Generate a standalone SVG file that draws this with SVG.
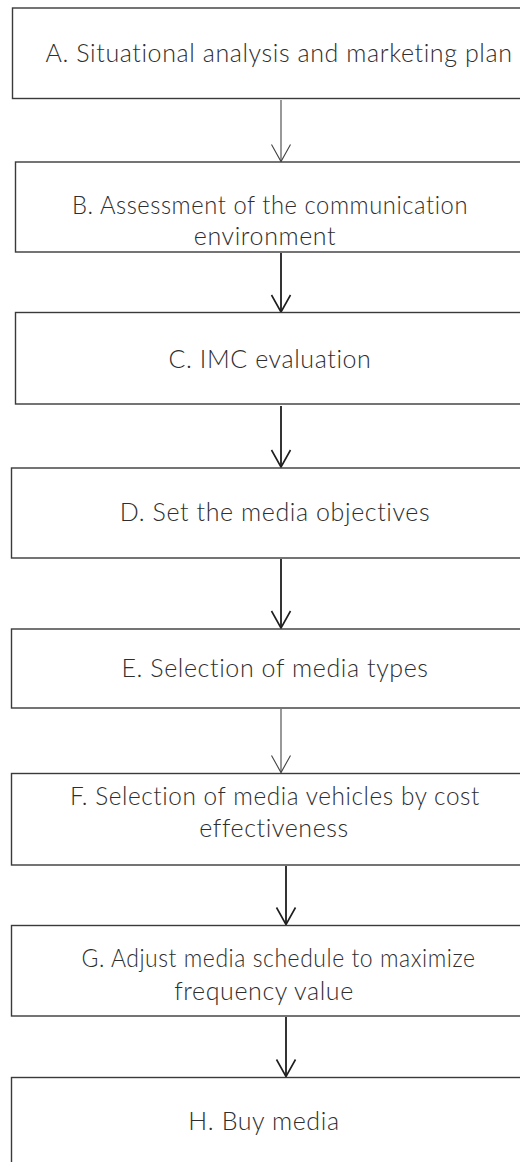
<svg xmlns="http://www.w3.org/2000/svg" width="520" height="1162" viewBox="0 0 520 1162">
  <style>
    .box { fill: #ffffff; stroke: #3a3a3a; stroke-width: 1.4; }
    .label { font-family: "Lato", "Liberation Sans", sans-serif; font-weight: 300; font-size: 25px; letter-spacing: 0.6px; fill: #2e2e2e; text-anchor: middle; }
    .thin { stroke: #444444; stroke-width: 1.1; fill: none; }
    .thick { stroke: #1e1e1e; stroke-width: 1.8; fill: none; }
  </style>
  <defs>
    <marker id="vThin" markerUnits="userSpaceOnUse" viewBox="-20 -12 22 24" refX="0" refY="0" markerWidth="22" markerHeight="24" orient="auto">
      <path d="M -17 -9.5 L 0 0 L -17 9.5" fill="none" stroke="#444444" stroke-width="1.1"/>
    </marker>
    <marker id="vThick" markerUnits="userSpaceOnUse" viewBox="-20 -12 22 24" refX="0" refY="0" markerWidth="22" markerHeight="24" orient="auto">
      <path d="M -17 -9.5 L 0 0 L -17 9.5" fill="none" stroke="#1e1e1e" stroke-width="1.6"/>
    </marker>
  </defs>
  <rect width="520" height="1162" fill="#ffffff"/>

  <!-- flow arrows between consecutive steps -->
  <g id="connectors">
    <line class="thin" x1="281" y1="100" x2="281" y2="161.5" marker-end="url(#vThin)"/>
    <line class="thick" x1="281" y1="253" x2="281" y2="312" marker-end="url(#vThick)"/>
    <line class="thick" x1="281" y1="406" x2="281" y2="467" marker-end="url(#vThick)"/>
    <line class="thick" x1="281" y1="559" x2="281" y2="628" marker-end="url(#vThick)"/>
    <line class="thin" x1="281" y1="709" x2="281" y2="772.5" marker-end="url(#vThin)"/>
    <line class="thick" x1="286" y1="866" x2="286" y2="924.5" marker-end="url(#vThick)"/>
    <line class="thick" x1="286" y1="1017" x2="286" y2="1076.5" marker-end="url(#vThick)"/>
  </g>

  <g id="node-a">
    <rect class="box" x="12.5" y="8" width="520" height="90.5"/>
    <text class="label" x="279" y="62">A. Situational analysis and marketing plan</text>
  </g>
  <g id="node-b">
    <rect class="box" x="15.5" y="162" width="520" height="90"/>
    <text class="label" x="270" y="214" textLength="396" lengthAdjust="spacingAndGlyphs">B. Assessment of the communication</text>
    <text class="label" x="265" y="245">environment</text>
  </g>
  <g id="node-c">
    <rect class="box" x="15.5" y="312.5" width="520" height="91.5"/>
    <text class="label" x="270" y="368">C. IMC evaluation</text>
  </g>
  <g id="node-d">
    <rect class="box" x="11.5" y="468" width="520" height="90"/>
    <text class="label" x="275" y="521">D. Set the media objectives</text>
  </g>
  <g id="node-e">
    <rect class="box" x="11.5" y="629" width="520" height="79"/>
    <text class="label" x="275" y="677">E. Selection of media types</text>
  </g>
  <g id="node-f">
    <rect class="box" x="11.5" y="773.5" width="520" height="91.5"/>
    <text class="label" x="275" y="805" textLength="410" lengthAdjust="spacingAndGlyphs">F. Selection of media vehicles by cost</text>
    <text class="label" x="274" y="837">effectiveness</text>
  </g>
  <g id="node-g">
    <rect class="box" x="11.5" y="925.5" width="520" height="90.5"/>
    <text class="label" x="278.5" y="967" textLength="394" lengthAdjust="spacingAndGlyphs">G. Adjust media schedule to maximize</text>
    <text class="label" x="264" y="1000">frequency value</text>
  </g>
  <g id="node-h">
    <rect class="box" x="11.5" y="1077.5" width="520" height="100"/>
    <text class="label" x="264" y="1130">H. Buy media</text>
  </g>
</svg>
